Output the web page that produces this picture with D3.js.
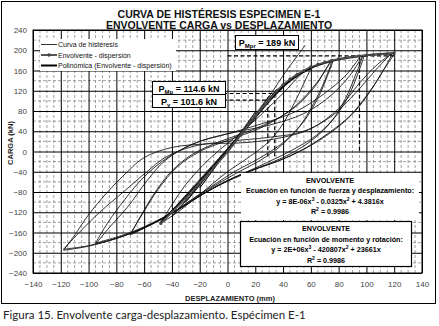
<!DOCTYPE html>
<html><head><meta charset="utf-8">
<script src="https://cdn.jsdelivr.net/npm/d3@7"></script>
<style>body{margin:0;background:#fff} svg{display:block;font-family:"Liberation Sans",Arial,sans-serif}</style>
</head><body>
<svg id="c" width="439" height="326"></svg>
<script>
// ---------- data ----------
const titleLines = ["CURVA DE HISTÉRESIS ESPECIMEN E-1", "ENVOLVENTE CARGA vs DESPLAZAMIENTO"];
const xTickValues = [-140,-120,-100,-80,-60,-40,-20,0,20,40,60,80,100,120,140];
const yTickValues = [-240,-200,-160,-120,-80,-40,0,40,80,120,160,200,240];
const xLabel = "DESPLAZAMIENTO (mm)";
const yLabel = "CARGA (kN)";
const caption = "Figura 15. Envolvente carga-desplazamiento. Espécimen E-1";
const legendLabels = ["Curva de histéresis", "Envolvente - dispersión", "Polinómica (Envolvente - dispersión)"];

// hysteresis cycles [displacement mm, load kN]
const loopS1 = [[-20,-72],[-10,-35],[0,2],[10,40],[20,78],[12,45],[2,10],[-8,-28],[-20,-72]];
const loopS2 = [[-30,-100],[-15,-50],[0,5],[15,55],[30,110],[18,62],[4,15],[-12,-38],[-30,-100]];
const loopS3 = [[-40,-128],[-25,-82],[-10,-30],[5,20],[20,72],[35,120],[25,82],[10,35],[-5,-15],[-22,-70],[-40,-128]];
const loopS4 = [[-48,-142],[-30,-90],[-12,-35],[5,18],[20,68],[35,122],[26,88],[12,45],[-3,-5],[-20,-58],[-35,-105],[-48,-142]];
const loopS5 = [[-47,-140],[-32,-92],[-15,-40],[2,12],[18,62],[36,124],[28,95],[14,50],[0,5],[-18,-52],[-34,-100],[-47,-140]];
const loopM1 = [[-48,-142],[-40,-105],[-30,-65],[-18,-28],[-5,5],[10,38],[25,75],[40,115],[52,150],[60,168],[55,135],[48,95],[40,55],[30,20],[15,-12],[0,-40],[-20,-85],[-35,-118],[-48,-142]];
const loopM2 = [[-70,-165],[-62,-125],[-52,-80],[-40,-38],[-25,-5],[-5,20],[20,45],[45,80],[62,125],[75,180],[70,140],[62,95],[52,50],[40,15],[25,-15],[5,-45],[-20,-85],[-45,-130],[-70,-165]];
const loopM2b = [[-70,-163],[-60,-118],[-50,-75],[-36,-30],[-20,0],[0,22],[25,48],[48,88],[64,135],[76,182],[72,150],[65,105],[55,60],[42,22],[25,-10],[5,-40],[-22,-88],[-46,-132],[-70,-163]];
const loopM3 = [[-95,-183],[-85,-150],[-72,-110],[-58,-58],[-45,-18],[-25,15],[0,35],[25,55],[50,80],[70,115],[85,150],[97,190],[92,150],[85,105],[75,60],[62,25],[45,-5],[20,-35],[-10,-72],[-40,-122],[-70,-162],[-95,-183]];
const loopM3b = [[-95,-181],[-86,-140],[-74,-95],[-60,-50],[-42,-10],[-20,20],[5,38],[30,52],[55,75],[75,112],[88,150],[98,189],[94,155],[88,115],[78,70],[64,32],[46,2],[22,-30],[-8,-68],[-38,-118],[-68,-158],[-95,-181]];
const loopL1 = [[-118,-195],[-110,-165],[-100,-125],[-87,-82],[-72,-40],[-60,-12],[-40,8],[-15,15],[15,18],[40,28],[60,45],[80,85],[95,135],[108,172],[120,195],[112,160],[103,120],[92,80],[78,45],[60,12],[40,-15],[15,-40],[-10,-72],[-40,-122],[-70,-162],[-100,-187],[-118,-195]];
const loopL2 = [[-118,-193],[-105,-155],[-92,-120],[-75,-80],[-58,-40],[-45,-12],[-25,10],[0,20],[30,28],[55,40],[75,70],[92,115],[108,165],[118,192],[110,150],[100,110],[88,70],[72,35],[55,5],[35,-20],[10,-45],[-15,-80],[-45,-130],[-75,-167],[-100,-186],[-118,-193]];
const steepBranch = [[28,100],[40,150],[50,188],[56,210]];

// envelope (dispersion) and its polynomial fit
const envelopeDisp = [[-48,-142],[-40,-120],[-30,-92],[-20,-62],[-10,-32],[0,0],[10,35],[20,70],[30,102],[35,118],[40,132],[45,143],[50,152],[55,160],[60,167],[65,172],[70,176],[75,180],[80,183],[85,185],[90,187],[95,189],[100,190],[105,191],[110,192],[115,193],[120,195]];
const polyFit = [[-48,-140],[-30,-90],[-15,-45],[0,0],[15,52],[30,100],[45,140],[60,165],[80,182],[100,190],[120,194]];

// reference values
const pMpr = 189, pMp = 114.6, pY = 101.6;
const dMpr = 95, dMp = 34, dY = 29;
const eqForce = ["ENVOLVENTE", "Ecuación en función de fuerza y desplazamiento:", "y = 8E-06x", "3", " - 0.0325x", "2", " + 4.3816x", "R", "2", " = 0.9986"];
const eqMoment = ["ENVOLVENTE", "Ecuación en función de momento y rotación:", "y = 2E+06x", "3", " - 420807x", "2", " + 23661x", "R", "2", " = 0.9986"];

// ---------- drawing ----------
const svg = d3.select('#c');
const x = d3.scaleLinear().domain([-140,140]).range([33,422]);
const y = d3.scaleLinear().domain([-240,240]).range([273,30]);
const [x0,x1] = x.range(), [y0,y1] = [y(240), y(-240)];

svg.append('rect').attr('width',439).attr('height',326).attr('fill','#fff');
svg.append('rect').attr('x',1.5).attr('y',1.5).attr('width',434).attr('height',302)
  .attr('fill','none').attr('stroke','#000').attr('stroke-width',1);

// minor grid
const xMinor = d3.range(-135,140,5).filter(v=>v%20!==0);
const yMinor = d3.range(-220,240,40);
const g = svg.append('g');
g.selectAll('.vm').data(xMinor).join('line')
  .attr('x1',d=>x(d)).attr('x2',d=>x(d)).attr('y1',y0).attr('y2',y1)
  .attr('stroke','#8a8a8a').attr('stroke-width',0.8).attr('stroke-dasharray','3,2');
g.selectAll('.hm').data(yMinor).join('line')
  .attr('x1',x0).attr('x2',x1).attr('y1',d=>y(d)).attr('y2',d=>y(d))
  .attr('stroke','#8a8a8a').attr('stroke-width',0.8).attr('stroke-dasharray','3,2');
// major grid
g.append('g').attr('transform',`translate(0,${y1})`)
  .call(d3.axisBottom(x).tickValues(xTickValues).tickSize(-(y1-y0)).tickFormat(''))
  .call(s=>s.select('.domain').remove())
  .call(s=>s.selectAll('line').attr('stroke','#000').attr('stroke-width',1));
g.append('g').attr('transform',`translate(${x0},0)`)
  .call(d3.axisLeft(y).tickValues(yTickValues).tickSize(-(x1-x0)).tickFormat(''))
  .call(s=>s.select('.domain').remove())
  .call(s=>s.selectAll('line').attr('stroke','#000').attr('stroke-width',1));
svg.append('rect').attr('x',x0).attr('y',y0).attr('width',x1-x0).attr('height',y1-y0)
  .attr('fill','none').attr('stroke','#000').attr('stroke-width',1);

// tick labels
svg.append('g').attr('transform',`translate(0,${y1+8})`)
  .call(d3.axisBottom(x).tickValues(xTickValues).tickSize(0).tickPadding(0))
  .call(s=>s.select('.domain').remove())
  .call(s=>s.selectAll('text').attr('font-size',8).attr('fill','#444').attr('font-family','Liberation Sans, Arial'));
svg.append('g').attr('transform',`translate(${x0-6},0)`)
  .call(d3.axisLeft(y).tickValues(yTickValues).tickSize(0).tickPadding(0))
  .call(s=>s.select('.domain').remove())
  .call(s=>s.selectAll('text').attr('font-size',8).attr('fill','#444').attr('font-family','Liberation Sans, Arial'));

// titles
svg.selectAll('.title').data(titleLines).join('text')
  .attr('x',219).attr('y',(d,i)=>17.5+i*11.5).attr('text-anchor','middle')
  .attr('font-size',10.5).attr('font-weight','bold').attr('fill','#111').text(d=>d);
svg.append('text').attr('x',230).attr('y',300.5).attr('text-anchor','middle')
  .attr('font-size',7.5).attr('font-weight','bold').attr('fill','#222').text(xLabel);
svg.append('text').attr('transform','translate(13,143) rotate(-90)').attr('text-anchor','middle')
  .attr('font-size',7.5).attr('font-weight','bold').attr('fill','#222').text(yLabel);
svg.append('text').attr('x',3).attr('y',319).attr('font-size',11.5)
  .attr('font-family','Lato, "Open Sans", sans-serif').attr('fill','#222').text(caption);

// plot clip
svg.append('clipPath').attr('id','pc').append('rect').attr('x',x0).attr('y',y0).attr('width',x1-x0).attr('height',y1-y0);
const plot = svg.append('g').attr('clip-path','url(#pc)');

// dashed reference lines
const dash = (pts)=>plot.append('path').attr('d',d3.line().x(d=>x(d[0])).y(d=>y(d[1]))(pts))
  .attr('fill','none').attr('stroke','#000').attr('stroke-width',1.2).attr('stroke-dasharray','4,2.5');
dash([[0,pMpr],[120,pMpr]]);
dash([[dMpr,pMpr],[dMpr,0]]);
dash([[-50,pMp],[dMp,pMp],[dMp,-10]]);
dash([[-50,pY],[dY,pY],[dY,-10]]);

// hysteresis
const line = d3.line().x(d=>x(d[0])).y(d=>y(d[1])).curve(d3.curveCatmullRom.alpha(0.5));
const loops = [loopS1,loopS2,loopS3,loopS4,loopS5,loopM1,loopM2,loopM2b,loopM3,loopM3b,loopL1,loopL2,steepBranch];
plot.selectAll('.loop').data(loops).join('path').attr('d',line)
  .attr('fill','none').attr('stroke','#111').attr('stroke-width',0.85);

// envelope
plot.append('path').attr('d',line(polyFit)).attr('fill','none').attr('stroke','#000').attr('stroke-width',2);
plot.append('path').attr('d',line(envelopeDisp)).attr('fill','none').attr('stroke','#555').attr('stroke-width',1.6);
plot.selectAll('.mk').data(envelopeDisp).join('circle').attr('cx',d=>x(d[0])).attr('cy',d=>y(d[1]))
  .attr('r',1.6).attr('fill','#444');

// legend
const lg = svg.append('g');
lg.append('rect').attr('x',40).attr('y',39).attr('width',136).attr('height',32).attr('fill','#fff');
legendLabels.forEach((t,i)=>{
  const yy = 44.5 + i*10.5;
  lg.append('line').attr('x1',41).attr('x2',57).attr('y1',yy).attr('y2',yy)
    .attr('stroke',i===1?'#555':'#000').attr('stroke-width',i===0?0.8:2);
  if(i===1) lg.append('circle').attr('cx',49).attr('cy',yy).attr('r',1.8).attr('fill','#444');
  lg.append('text').attr('x',58).attr('y',yy+2.5).attr('font-size',7).attr('fill','#111').text(t);
});

// P boxes
function pText(gx, cx, cy, sub, val){
  const t = gx.append('text').attr('x',cx).attr('y',cy).attr('text-anchor','middle')
    .attr('font-size',9).attr('font-weight','bold').attr('fill','#000');
  t.append('tspan').text('P');
  t.append('tspan').attr('font-size',6).attr('dy',2).text(sub);
  t.append('tspan').attr('dy',-2).text(' = ' + val + ' kN');
}
const pb = svg.append('g');
pb.append('rect').attr('x',235.5).attr('y',35.5).attr('width',63).attr('height',14).attr('fill','#fff').attr('stroke','#000');
pText(pb, 267, 46, 'Mpr', pMpr);
pb.append('rect').attr('x',152.5).attr('y',81.5).attr('width',73).attr('height',13).attr('fill','#fff').attr('stroke','#000');
pb.append('rect').attr('x',152.5).attr('y',94.5).attr('width',73).attr('height',13).attr('fill','#fff').attr('stroke','#000');
pText(pb, 189, 91.5, 'Mp', pMp);
pText(pb, 189, 104.5, 'y', pY);

// equation boxes
function eqBox(cx, top, w, h, lines, border){
  const gb = svg.append('g');
  gb.append('rect').attr('x',cx-w/2).attr('y',top).attr('width',w).attr('height',h)
    .attr('fill','#fff').attr('stroke',border?'#000':'none').attr('stroke-width',1.2);
  const fs = 7.2;
  gb.append('text').attr('x',cx).attr('y',top+9.5).attr('text-anchor','middle').attr('font-size',fs).attr('font-weight','bold').text(lines[0]);
  gb.append('text').attr('x',cx).attr('y',top+20).attr('text-anchor','middle').attr('font-size',fs).attr('font-weight','bold').text(lines[1]);
  const t3 = gb.append('text').attr('x',cx).attr('y',top+30.5).attr('text-anchor','middle').attr('font-size',fs).attr('font-weight','bold');
  t3.append('tspan').text(lines[2]);
  t3.append('tspan').attr('font-size',5).attr('dy',-3).text(lines[3]);
  t3.append('tspan').attr('dy',3).text(lines[4]);
  t3.append('tspan').attr('font-size',5).attr('dy',-3).text(lines[5]);
  t3.append('tspan').attr('dy',3).text(lines[6]);
  const t4 = gb.append('text').attr('x',cx).attr('y',top+41).attr('text-anchor','middle').attr('font-size',fs).attr('font-weight','bold');
  t4.append('tspan').text(lines[7]);
  t4.append('tspan').attr('font-size',5).attr('dy',-3).text(lines[8]);
  t4.append('tspan').attr('dy',3).text(lines[9]);
}
eqBox(330, 173, 178, 47, eqForce, false);
eqBox(326, 221.5, 171, 45, eqMoment, true);
</script>
</body></html>
